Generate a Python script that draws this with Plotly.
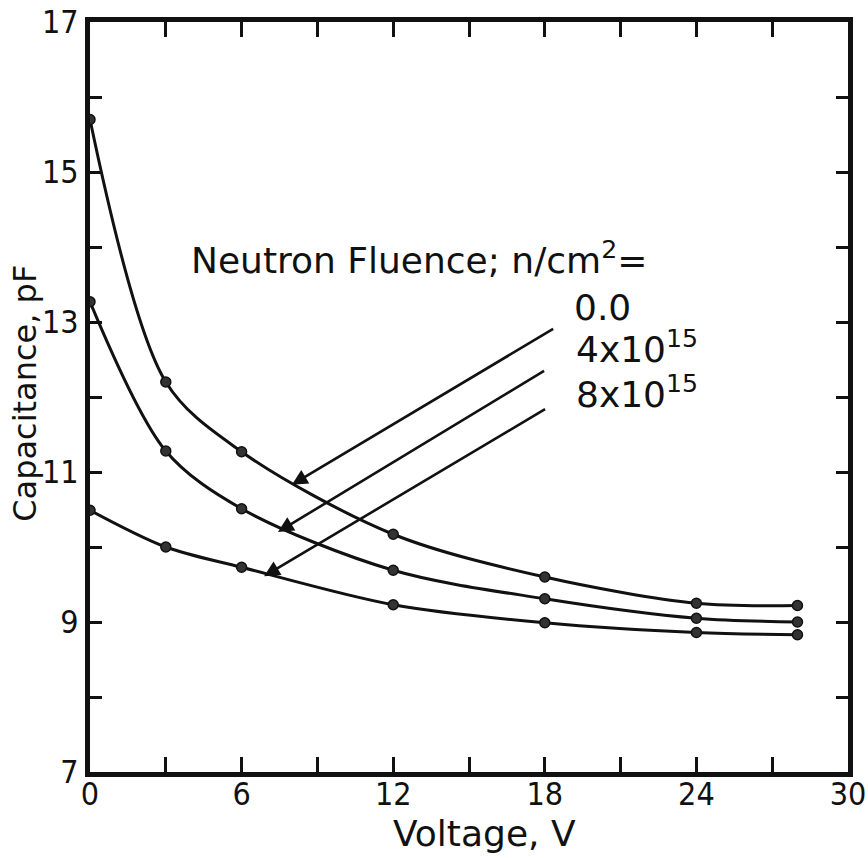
import plotly.graph_objects as go

# Reverse-bias voltage (V) and measured capacitance (pF) for each neutron fluence
voltage = [0, 3, 6, 12, 18, 24, 28]
cap_fluence_0 = [15.70, 12.20, 11.27, 10.17, 9.60, 9.25, 9.22]
cap_fluence_4e15 = [13.27, 11.28, 10.51, 9.69, 9.31, 9.05, 9.00]
cap_fluence_8e15 = [10.49, 10.00, 9.73, 9.23, 8.99, 8.86, 8.83]

series_names = ["0.0", "4x10<sup>15</sup>", "8x10<sup>15</sup>"]
series_values = [cap_fluence_0, cap_fluence_4e15, cap_fluence_8e15]

x_tickvals = [0, 3, 6, 9, 12, 15, 18, 21, 24, 27, 30]
x_ticktext = ["0", "", "6", "", "12", "", "18", "", "24", "", "30"]
y_tickvals = [7, 8, 9, 10, 11, 12, 13, 14, 15, 16, 17]
y_ticktext = ["7", "", "9", "", "11", "", "13", "", "15", "", "17"]

INK = "#111111"
TICK_FONT = "DejaVu Sans Condensed, Liberation Sans, sans-serif"
TEXT_FONT = "DejaVu Sans, Verdana, sans-serif"

fig = go.Figure()
for name, caps in zip(series_names, series_values):
    fig.add_trace(go.Scatter(
        x=voltage, y=caps, name=name,
        mode="lines+markers",
        line=dict(color=INK, width=3, shape="spline", smoothing=0.9),
        marker=dict(color="#333333", size=10, line=dict(color=INK, width=1.5)),
        showlegend=False,
    ))

axis_common = dict(
    showline=True, linecolor=INK, linewidth=5, mirror="allticks",
    ticks="inside", tickcolor=INK, tickwidth=3, automargin=False,
    showgrid=False, zeroline=False, ticklabeloverflow="allow",
    tickfont=dict(family=TICK_FONT, size=32, color=INK),
)

fig.update_xaxes(range=[0, 30], tickmode="array", tickvals=x_tickvals,
                 ticktext=x_ticktext, ticklen=15, ticklabelstandoff=-10,
                 **axis_common)
fig.update_yaxes(range=[7, 17], tickmode="array", tickvals=y_tickvals,
                 ticktext=y_ticktext, ticklen=12, ticklabelstandoff=0,
                 **axis_common)

annotations = [
    # axis titles
    dict(text="Voltage, V", x=0.52, y=-0.082, xref="paper", yref="paper",
         showarrow=False, font=dict(family=TEXT_FONT, size=36, color=INK),
         xanchor="center", yanchor="middle"),
    dict(text="Capacitance, pF", x=-0.085, y=0.505, xref="paper", yref="paper",
         textangle=-90, showarrow=False,
         font=dict(family=TEXT_FONT, size=32, color=INK),
         xanchor="center", yanchor="middle"),
    # key heading
    dict(text="Neutron Fluence; n/cm<sup>2</sup>=", x=0.13, y=0.685,
         xref="paper", yref="paper", showarrow=False, xanchor="left",
         yanchor="middle", font=dict(family=TEXT_FONT, size=36, color=INK)),
    dict(text=series_names[0], x=0.676, y=0.62, xref="paper", yref="paper",
         showarrow=False, xanchor="center", yanchor="middle",
         font=dict(family=TEXT_FONT, size=36, color=INK)),
    dict(text=series_names[1], x=0.638, y=0.567, xref="paper", yref="paper",
         showarrow=False, xanchor="left", yanchor="middle",
         font=dict(family=TEXT_FONT, size=36, color=INK)),
    dict(text=series_names[2], x=0.638, y=0.507, xref="paper", yref="paper",
         showarrow=False, xanchor="left", yanchor="middle",
         font=dict(family=TEXT_FONT, size=36, color=INK)),
]

# pointer arrows from each key entry to its curve
arrows = [((7.99, 10.83), (18.39, 12.92)),
          ((7.44, 10.20), (18.03, 12.36)),
          ((6.89, 9.61), (18.07, 11.85))]
for (hx, hy), (tx, ty) in arrows:
    annotations.append(dict(
        x=hx, y=hy, ax=tx, ay=ty, xref="x", yref="y", axref="x", ayref="y",
        text="", showarrow=True, arrowhead=2, arrowsize=1.2, arrowwidth=2.6,
        arrowcolor=INK, standoff=0,
    ))

fig.update_layout(
    width=868, height=858,
    margin=dict(l=90, r=20, t=22, b=86),
    paper_bgcolor="white", plot_bgcolor="white",
    annotations=annotations,
)

fig.write_html("out.html")
